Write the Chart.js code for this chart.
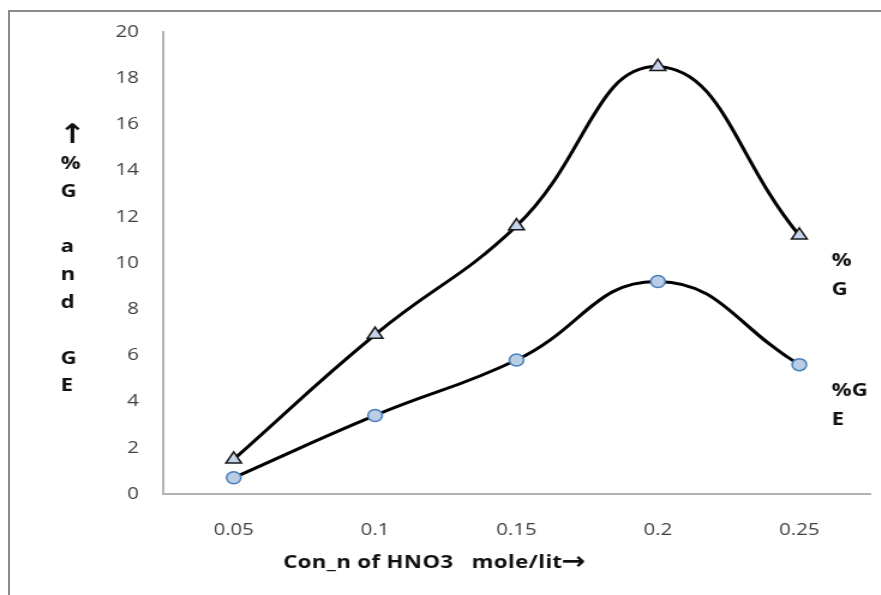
<!DOCTYPE html>
<html>
<head>
<meta charset="utf-8">
<script src="https://cdn.jsdelivr.net/npm/chart.js@4.4.1/dist/chart.umd.min.js"></script>
<style>
  html, body { margin: 0; padding: 0; background: #fff; overflow: hidden; }
  #wrap { position: relative; width: 881px; height: 595px; overflow: hidden; }
  #frame { position: absolute; left: 8px; top: 10px; width: 2000px; height: 2000px;
           border-top: 2px solid #8c8c8c; border-left: 2px solid #8c8c8c; box-sizing: border-box; }
  #stretch { position: absolute; left: 0; top: 0; width: 734px; height: 595px;
             transform: scale(1.2, 1); transform-origin: 0 0; }
</style>
</head>
<body>
<div id="wrap">
  <div id="frame"></div>
  <div id="stretch"><canvas id="c" width="734" height="595"></canvas></div>
</div>
<script>
const categories = ["0.05", "0.1", "0.15", "0.2", "0.25"];
const seriesG  = [1.5, 6.9, 11.6, 18.5, 11.2];
const seriesGE = [0.7, 3.4, 5.8, 9.2, 5.6];
const yTicks = [0, 2, 4, 6, 8, 10, 12, 14, 16, 18, 20];
const xTitle = "Con_n of HNO3   mole/lit";
const xArrow = "\u2192";
const yArrow = "\u2191";
const yTitleLines = ["%", "G", "", "a", "n", "d", "", "G", "E"];
const labelG = ["%", "G"];
const labelGE = ["%G", "E"];

const FONT = "'Open Sans', 'DejaVu Sans', sans-serif";
const ARROWFONT = "'DejaVu Sans', sans-serif";

const textPlugin = {
  id: 'texts',
  afterDraw(chart) {
    const ctx = chart.ctx;
    ctx.save();
    ctx.fillStyle = '#111';
    ctx.textBaseline = 'middle';
    ctx.textAlign = 'left';
    // y title arrow + stacked characters
    ctx.font = "bold 27px " + ARROWFONT;
    ctx.fillText(yArrow, 49, 136);
    ctx.font = "bold 18.5px " + FONT;
    yTitleLines.forEach((t, i) => { if (t) ctx.fillText(t, 50.5, 163.8 + i * 27.8); });
    // series labels at right
    labelG.forEach((t, i) => ctx.fillText(t, 693, 261 + i * 29));
    labelGE.forEach((t, i) => ctx.fillText(t, 693, 391 + i * 29));
    // x title
    ctx.letterSpacing = '0.3px';
    ctx.fillText(xTitle, 236, 563);
    const w = ctx.measureText(xTitle).width;
    ctx.letterSpacing = '0px';
    ctx.font = "bold 24px " + ARROWFONT;
    ctx.fillText(xArrow, 236 + w - 1, 563);
    ctx.restore();
  }
};

new Chart(document.getElementById('c'), {
  type: 'line',
  data: {
    labels: categories,
    datasets: [
      {
        label: '%G',
        data: seriesG,
        borderColor: '#000',
        borderWidth: 3,
        tension: 0.45,
        pointStyle: 'triangle',
        pointRadius: 7.5,
        pointBackgroundColor: '#c5d3ea',
        pointBorderColor: '#1a1a1a',
        pointBorderWidth: 1.5
      },
      {
        label: '%GE',
        data: seriesGE,
        borderColor: '#000',
        borderWidth: 3,
        tension: 0.45,
        pointStyle: 'circle',
        pointRadius: 6,
        pointBackgroundColor: '#b9cde5',
        pointBorderColor: '#4a7ebb',
        pointBorderWidth: 1.5
      }
    ]
  },
  options: {
    responsive: false,
    animation: false,
    devicePixelRatio: 1,
    layout: { padding: { top: 32, right: 6.5, left: 0, bottom: 0 } },
    plugins: { legend: { display: false }, tooltip: { enabled: false } },
    scales: {
      x: {
        offset: true,
        grid: { display: false, drawTicks: false },
        border: { display: true, color: '#b3b3b3', width: 2 },
        ticks: { color: '#404040', font: { family: FONT, size: 17 }, padding: 26, maxRotation: 0 },
        afterFit(s) { s.height = 101; }
      },
      y: {
        min: 0, max: 20,
        afterBuildTicks(s) { s.ticks = yTicks.map(v => ({ value: v })); },
        grid: { display: false, drawTicks: false },
        border: { display: true, color: '#b3b3b3', width: 2 },
        ticks: { color: '#404040', font: { family: FONT, size: 17 }, padding: 20 },
        afterFit(s) { s.width = 135.8; }
      }
    }
  },
  plugins: [textPlugin]
});
</script>
</body>
</html>
